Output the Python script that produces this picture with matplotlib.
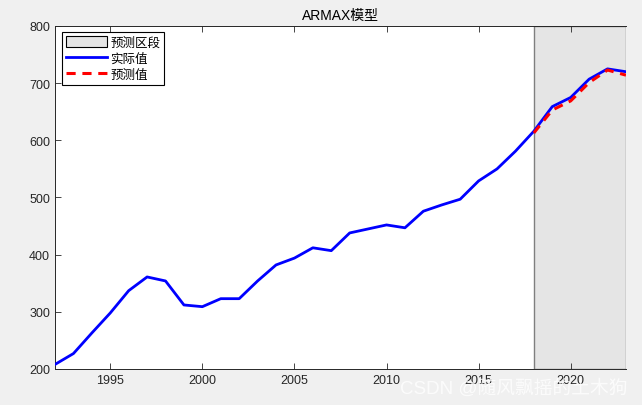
import matplotlib

matplotlib.use("Agg")
import matplotlib.pyplot as plt
from matplotlib.patches import Patch
from matplotlib.lines import Line2D

plt.rcParams["font.family"] = ["Liberation Sans", "Noto Sans CJK SC", "DejaVu Sans"]

FIG_BG = "#f0f0f0"
AX_INK = "#262626"

years = list(range(1992, 2024))
actual = [208, 227, 263, 298, 337, 361, 354, 312, 309, 323, 323, 354, 382, 394,
          412, 407, 438, 445, 452, 447, 476, 487, 497, 529, 550, 581, 616, 659,
          675, 707, 725, 720]
pred_years = [2018, 2019, 2020, 2021, 2022, 2023]
predicted = [613, 653, 669, 701, 723, 714]
forecast_span = (2018, 2023)

fig = plt.figure(figsize=(6.42, 4.06), dpi=100)
fig.patch.set_facecolor(FIG_BG)
ax = fig.add_axes([0.0857, 0.0887, 0.8893, 0.8448])

ax.axvspan(*forecast_span, facecolor="#e5e5e5", edgecolor="#7f7f7f", linewidth=1, zorder=1)
ax.plot(years, actual, color="#0000ff", linewidth=2, zorder=3)
ax.plot(pred_years, predicted, color="#ff0000", linewidth=2.2, linestyle=(0, (3, 2.2)), zorder=4)

ax.set_xlim(1992, 2023)
ax.set_ylim(200, 800)
ax.set_xticks([1995, 2000, 2005, 2010, 2015, 2020])
ax.set_yticks(range(200, 801, 100))
ax.tick_params(direction="in", top=True, right=False, length=4, width=0.6,
               colors=AX_INK, labelsize=9, labelcolor=AX_INK)
for s in ax.spines.values():
    s.set_color(AX_INK)
    s.set_linewidth(0.7)
ax.spines["right"].set_visible(False)

ax.set_title("ARMAX模型", fontsize=10, color="#000000", pad=5)

handles = [
    Patch(facecolor="#e5e5e5", edgecolor="#000000", linewidth=0.8),
    Line2D([], [], color="#0000ff", linewidth=2),
    Line2D([], [], color="#ff0000", linewidth=2.2, linestyle=(0, (3, 2.2))),
]
leg = ax.legend(handles, ["预测区段", "实际值", "预测值"], loc="upper left",
                bbox_to_anchor=(0.008, 0.99), fancybox=False, framealpha=1,
                edgecolor="#000000", handlelength=3.3, handleheight=1.0,
                handletextpad=0.25, borderpad=0.3, labelspacing=0.25,
                borderaxespad=0.2,
                prop={"family": ["Noto Sans CJK SC"], "size": 9})
leg.get_frame().set_linewidth(0.8)

# watermark as in the source image
fig.text(0.978, 0.044, "CSDN @随风飘摇的土木狗", ha="right", va="center",
         fontsize=13.5, color="#ffffff", alpha=0.8,
         family=["Liberation Sans", "Noto Sans CJK SC"])

fig.savefig("out.png", dpi=100, facecolor=FIG_BG)
